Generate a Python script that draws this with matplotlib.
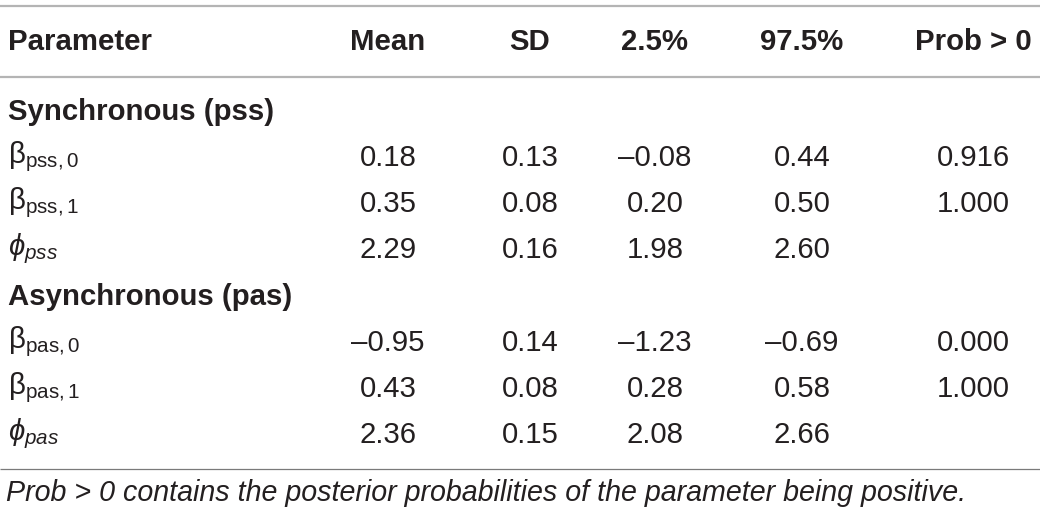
import matplotlib
matplotlib.use("Agg")
import matplotlib.pyplot as plt

plt.rcParams["font.family"] = ["Liberation Sans", "DejaVu Sans"]
plt.rcParams["mathtext.fontset"] = "custom"
plt.rcParams["mathtext.rm"] = "Liberation Sans"
plt.rcParams["mathtext.it"] = "Liberation Sans:italic"
plt.rcParams["mathtext.bf"] = "Liberation Sans:bold"

# =========================
# Données du tableau
# =========================
colonnes = ["Parameter", "Mean", "SD", "2.5%", "97.5%", "Prob > 0"]

groupes = ["Synchronous (pss)", "Asynchronous (pas)"]

parametres = [
    [r"$\mathregular{β_{pss,0}}$", r"$\mathregular{β_{pss,1}}$", r"$\phi_{pss}$"],
    [r"$\mathregular{β_{pas,0}}$", r"$\mathregular{β_{pas,1}}$", r"$\phi_{pas}$"],
]

moyenne = [[0.18, 0.35, 2.29], [-0.95, 0.43, 2.36]]
ecart_type = [[0.13, 0.08, 0.16], [0.14, 0.08, 0.15]]
q_bas = [[-0.08, 0.20, 1.98], [-1.23, 0.28, 2.08]]
q_haut = [[0.44, 0.50, 2.60], [-0.69, 0.58, 2.66]]
prob_pos = [[0.916, 1.000, None], [0.000, 1.000, None]]

note = "Prob > 0 contains the posterior probabilities of the parameter being positive."

# =========================
# Mise en page
# =========================
W, H = 1040, 518
TXT = "#231f20"
FS = 21.2
FS_NOTE = 20.6

col_x = [8, 388, 530, 655, 802, 973]

fig = plt.figure(figsize=(W / 100, H / 100), dpi=100)
ax = fig.add_axes([0, 0, 1, 1])
ax.set_xlim(0, W)
ax.set_ylim(H, 0)
ax.axis("off")


def fmt(v, nd=2):
    if v is None:
        return ""
    return f"{v:.{nd}f}".replace("-", "\u2013")


# lignes horizontales
ax.plot([0, W], [6, 6], color="#b4b4b4", lw=1.6, solid_capstyle="butt")
ax.plot([0, W], [77, 77], color="#b4b4b4", lw=1.6, solid_capstyle="butt")
ax.plot([0, W], [469, 469], color="#7a7a7a", lw=0.9, solid_capstyle="butt")

# en-tête
for i, c in enumerate(colonnes):
    ha = "left" if i == 0 else "center"
    ax.text(col_x[i], 42, c, ha=ha, va="center", fontsize=FS,
            fontweight="bold", color=TXT)

y_groupes = [112, 297]
for g, nom in enumerate(groupes):
    y0 = y_groupes[g]
    ax.text(col_x[0], y0, nom, ha="left", va="center", fontsize=FS,
            fontweight="bold", color=TXT)
    for k in range(3):
        y = y0 + 46 * (k + 1)
        ax.text(col_x[0], y - 1, parametres[g][k], ha="left", va="center",
                fontsize=FS, color=TXT)
        vals = [fmt(moyenne[g][k]), fmt(ecart_type[g][k]), fmt(q_bas[g][k]),
                fmt(q_haut[g][k]), fmt(prob_pos[g][k], 3)]
        for j, v in enumerate(vals):
            ax.text(col_x[j + 1], y, v, ha="center", va="center",
                    fontsize=FS, color=TXT)

ax.text(6, 493, note, ha="left", va="center", fontsize=FS_NOTE,
        style="italic", color=TXT)

fig.savefig("out.png", dpi=100)
